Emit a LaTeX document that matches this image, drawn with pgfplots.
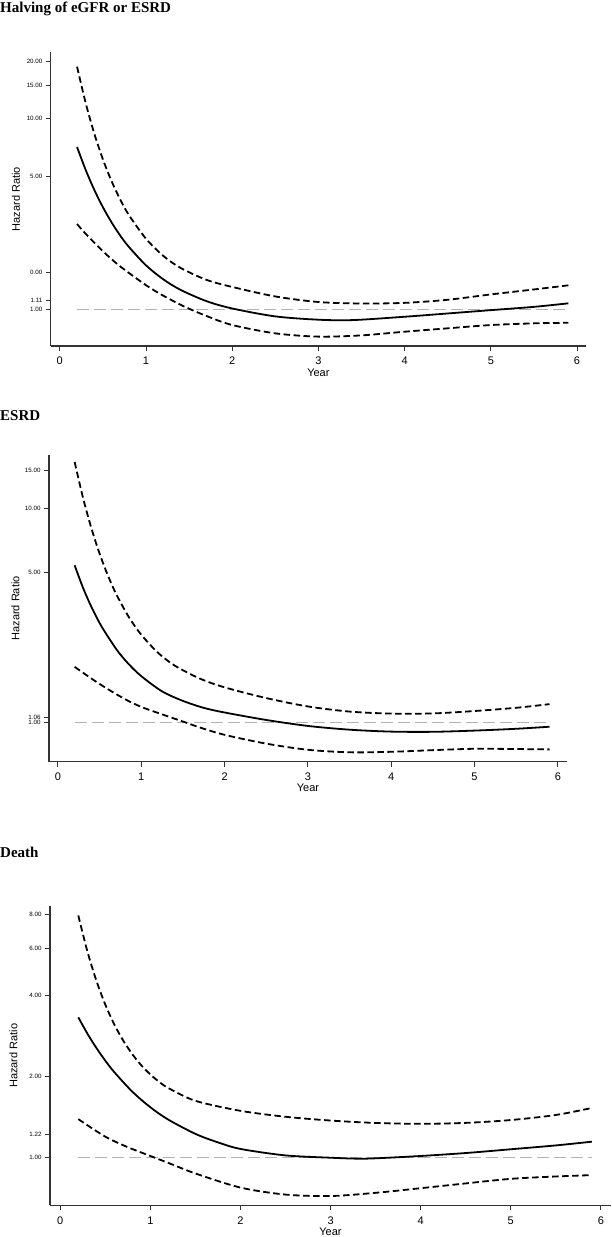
\documentclass[border=0pt]{standalone}
\usepackage{pgfplots}
\pgfplotsset{compat=1.18}
\usepackage{fontspec}
\setmainfont{Liberation Sans}
\newfontfamily\titlefont{Liberation Serif}

\pgfplotsset{
  hrstyle/.style={
    scale only axis,
    anchor=south west,
    axis x line*=bottom,
    axis y line*=left,
    axis line style={black!80, line width=1.1pt},
    tick style={black!80, line width=1pt},
    tick align=outside,
    major tick length=5pt,
    minor ytick={},
    minor xtick={},
    xtick={0,1,2,3,4,5,6},
    xticklabels={0,1,2,3,4,5,6},
    xticklabel style={font=\fontsize{11}{13}\selectfont, anchor=base, yshift=-14pt},
    yticklabel style={font=\fontsize{6.2}{7}\selectfont},
    xlabel={Year}, ylabel={Hazard Ratio},
    label style={font=\fontsize{11}{13}\selectfont},
    xlabel style={at={(axis description cs:0.5,0)}, anchor=base, yshift=-30pt},
    ylabel style={at={(axis description cs:-0.065,0.5)}, anchor=center},
    every axis title shift=0pt,
    title style={anchor=base west, inner sep=0pt, font=\titlefont\bfseries\fontsize{15}{18}\selectfont},
  },
  solidc/.style={black, line width=1.8pt, smooth, tension=0.5},
  dashc/.style={black, line width=1.8pt, dash pattern=on 6.5pt off 3.5pt, smooth, tension=0.5},
  refl/.style={black!30, line width=1.3pt, dash pattern=on 12pt off 5pt},
}

\begin{document}
\begin{tikzpicture}[x=1pt,y=1pt]
\path[use as bounding box] (0pt,0pt) rectangle (612pt,-1237pt);

% Panel 1
\begin{semilogyaxis}[hrstyle,
  at={(50.8pt,-346pt)}, width=535.2pt, height=294pt,
  xmin=-0.1044, xmax=6.104, ymin=0.642, ymax=22.36,
  ytick={1,1.11,1.556,5,10,15,20},
  yticklabels={1.00,1.11,0.00,5.00,10.00,15.00,20.00},
  title={Halving of eGFR or ESRD},
  title style={at={(axis description cs:-0.0949,1.136)}},
]
\addplot[refl] coordinates {(0.2,1) (5.9,1)};
\addplot[dashc] coordinates {(0.2,18.73)(0.3,12.09)(0.4,8.348)(0.5,6.117)(0.6,4.707)(0.7,3.773)(0.8,3.130)(1.0,2.344)(1.2,1.908)(1.4,1.649)(1.7,1.428)(2.0,1.310)(2.5,1.168)(3.0,1.092)(3.5,1.0725)(4.0,1.081)(4.5,1.122)(5.0,1.197)(5.5,1.271)(5.9,1.336)};
\addplot[solidc] coordinates {(0.2,7.10)(0.3,5.387)(0.4,4.233)(0.5,3.432)(0.6,2.860)(0.7,2.440)(0.8,2.128)(1.0,1.701)(1.2,1.437)(1.4,1.265)(1.7,1.104)(2.0,1.010)(2.5,0.918)(3.0,0.882)(3.4,0.878)(4.0,0.914)(4.5,0.951)(5.0,0.990)(5.5,1.030)(5.9,1.075)};
\addplot[dashc] coordinates {(0.2,2.801)(0.3,2.489)(0.5,2.016)(0.7,1.680)(1.0,1.338)(1.2,1.179)(1.44,1.036)(1.7,0.923)(2.0,0.827)(2.5,0.748)(3.0,0.719)(3.5,0.730)(4.0,0.763)(4.5,0.795)(5.0,0.827)(5.5,0.844)(5.9,0.850)};
\end{semilogyaxis}

% Panel 2
\begin{semilogyaxis}[hrstyle,
  at={(49pt,-761.7pt)}, width=518pt, height=306.7pt,
  xmin=-0.108, xmax=6.11, ymin=0.658, ymax=17.72,
  ytick={1,1.06,5,10,15},
  yticklabels={1.00,1.06,5.00,10.00,15.00},
  title={ESRD},
  title style={at={(axis description cs:-0.0946,1.114)}},
]
\addplot[refl] coordinates {(0.2,1) (5.88,1)};
\addplot[dashc] coordinates {(0.2,16.44)(0.3,11.20)(0.4,8.093)(0.5,6.135)(0.6,4.850)(0.7,3.971)(0.85,3.111)(1.0,2.570)(1.2,2.121)(1.4,1.848)(1.7,1.608)(2.0,1.462)(2.5,1.303)(3.0,1.191)(3.5,1.127)(4.0,1.103)(4.5,1.105)(5.0,1.134)(5.5,1.174)(5.9,1.221)};
\addplot[solidc] coordinates {(0.2,5.419)(0.3,4.263)(0.4,3.476)(0.52,2.824)(0.7,2.203)(0.84,1.893)(1.0,1.649)(1.25,1.400)(1.5,1.264)(1.75,1.173)(2.0,1.116)(2.5,1.030)(3.0,0.966)(3.5,0.928)(4.0,0.909)(4.5,0.907)(5.0,0.919)(5.5,0.937)(5.9,0.958)};
\addplot[dashc] coordinates {(0.2,1.822)(0.4,1.608)(0.6,1.433)(0.82,1.278)(1.0,1.185)(1.2,1.111)(1.54,1.0)(1.7,0.951)(2.0,0.878)(2.5,0.799)(3.0,0.748)(3.5,0.728)(4.0,0.732)(4.5,0.745)(5.0,0.756)(5.5,0.754)(5.9,0.751)};
\end{semilogyaxis}

% Panel 3
\begin{semilogyaxis}[hrstyle,
  at={(50pt,-1205.3pt)}, width=561pt, height=299.3pt,
  xmin=-0.114, xmax=6.112, ymin=0.666, ymax=8.59,
  ytick={1,1.22,2,4,6,8},
  yticklabels={1.00,1.22,2.00,4.00,6.00,8.00},
  title={Death},
  title style={at={(axis description cs:-0.0891,1.1637)}},
]
\addplot[refl] coordinates {(0.2,1) (5.9,1)};
\addplot[dashc] coordinates {(0.2,7.925)(0.3,5.842)(0.4,4.547)(0.5,3.699)(0.6,3.121)(0.7,2.716)(0.8,2.421)(0.9,2.201)(1.0,2.036)(1.1,1.910)(1.2,1.813)(1.5,1.626)(2.0,1.493)(2.5,1.419)(3.0,1.374)(3.5,1.346)(4.0,1.336)(4.5,1.347)(5.0,1.380)(5.5,1.441)(5.9,1.530)};
\addplot[solidc] coordinates {(0.2,3.320)(0.3,2.892)(0.4,2.557)(0.5,2.291)(0.6,2.077)(0.8,1.758)(1.0,1.539)(1.2,1.384)(1.5,1.226)(1.75,1.140)(2.0,1.078)(2.5,1.020)(3.0,1.0)(3.3,0.992)(3.5,0.995)(4.0,1.015)(4.5,1.041)(5.0,1.075)(5.5,1.111)(5.9,1.147)};
\addplot[dashc] coordinates {(0.2,1.391)(0.5,1.197)(0.75,1.094)(1.0,1.015)(1.25,0.942)(1.5,0.874)(2.0,0.775)(2.5,0.730)(3.0,0.721)(3.5,0.741)(4.0,0.771)(4.5,0.803)(5.0,0.835)(5.5,0.852)(5.9,0.862)};
\end{semilogyaxis}
\end{tikzpicture}
\end{document}
